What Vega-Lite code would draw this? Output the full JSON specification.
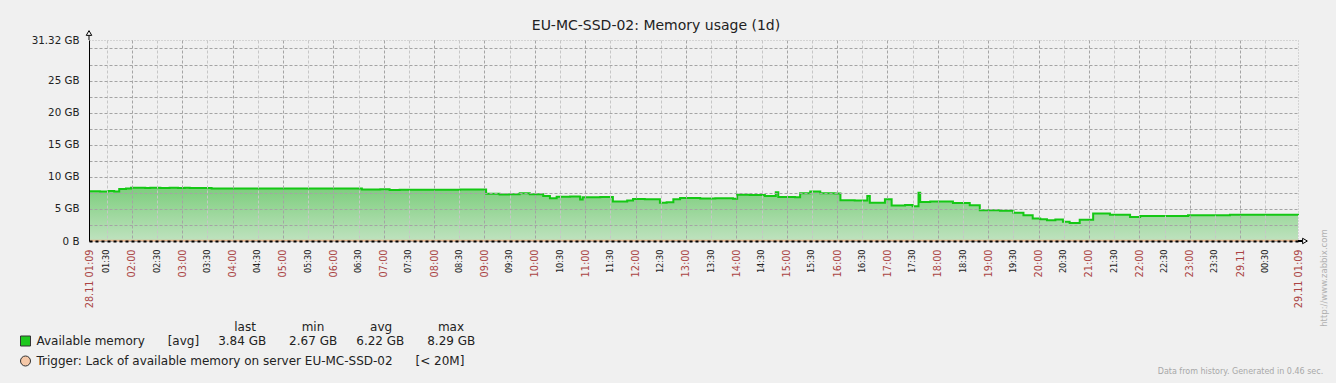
{
  "$schema": "https://vega.github.io/schema/vega-lite/v6.json",
  "width": 1209,
  "height": 201,
  "autosize": {"type": "none"},
  "padding": {"left": 89, "top": 40, "right": 38, "bottom": 142},
  "background": "#f0f0f0",
  "title": {"text": "EU-MC-SSD-02: Memory usage (1d)", "anchor": "middle", "frame": "group", "dx": -37.5, "dy": 8.5, "offset": 4, "font": "DejaVu Sans", "fontSize": 14, "fontWeight": "normal", "color": "#222222"},
  "config": {
    "view": {"fill": "#e0e0e0", "stroke": "#b8b8b8", "strokeDash": [1, 2]},
    "font": "DejaVu Sans",
    "axisX": {"labelOverlap": false, "labelFlush": false, "labelBound": false, "tickCount": 200},
    "axisY": {"labelOverlap": false, "labelFlush": false, "labelBound": false}
  },
  "datasets": {
    "memory": [
      {"time": "2017-11-28T01:09Z", "gb": 7.74},
      {"time": "2017-11-28T01:22Z", "gb": 7.70},
      {"time": "2017-11-28T01:32Z", "gb": 7.78},
      {"time": "2017-11-28T01:39Z", "gb": 7.72},
      {"time": "2017-11-28T01:45Z", "gb": 8.10},
      {"time": "2017-11-28T01:53Z", "gb": 8.18},
      {"time": "2017-11-28T01:59Z", "gb": 8.28},
      {"time": "2017-11-28T02:16Z", "gb": 8.25},
      {"time": "2017-11-28T02:22Z", "gb": 8.29},
      {"time": "2017-11-28T02:34Z", "gb": 8.26},
      {"time": "2017-11-28T02:45Z", "gb": 8.29},
      {"time": "2017-11-28T02:55Z", "gb": 8.24},
      {"time": "2017-11-28T03:03Z", "gb": 8.29},
      {"time": "2017-11-28T03:09Z", "gb": 8.27},
      {"time": "2017-11-28T03:35Z", "gb": 8.18},
      {"time": "2017-11-28T04:09Z", "gb": 8.20},
      {"time": "2017-11-28T04:33Z", "gb": 8.17},
      {"time": "2017-11-28T05:20Z", "gb": 8.19},
      {"time": "2017-11-28T05:56Z", "gb": 8.17},
      {"time": "2017-11-28T06:34Z", "gb": 8.02},
      {"time": "2017-11-28T06:56Z", "gb": 8.06},
      {"time": "2017-11-28T07:07Z", "gb": 7.95},
      {"time": "2017-11-28T07:19Z", "gb": 8.00},
      {"time": "2017-11-28T07:55Z", "gb": 7.98},
      {"time": "2017-11-28T08:31Z", "gb": 8.02},
      {"time": "2017-11-28T09:02Z", "gb": 7.35},
      {"time": "2017-11-28T09:18Z", "gb": 7.25},
      {"time": "2017-11-28T09:30Z", "gb": 7.30},
      {"time": "2017-11-28T09:42Z", "gb": 7.45},
      {"time": "2017-11-28T09:54Z", "gb": 7.28},
      {"time": "2017-11-28T10:10Z", "gb": 7.00},
      {"time": "2017-11-28T10:18Z", "gb": 6.65},
      {"time": "2017-11-28T10:26Z", "gb": 6.88},
      {"time": "2017-11-28T10:42Z", "gb": 6.95},
      {"time": "2017-11-28T10:54Z", "gb": 6.45},
      {"time": "2017-11-28T10:57Z", "gb": 6.80},
      {"time": "2017-11-28T11:18Z", "gb": 6.85},
      {"time": "2017-11-28T11:33Z", "gb": 6.15},
      {"time": "2017-11-28T11:50Z", "gb": 6.30},
      {"time": "2017-11-28T11:57Z", "gb": 6.55},
      {"time": "2017-11-28T12:11Z", "gb": 6.50},
      {"time": "2017-11-28T12:29Z", "gb": 5.95},
      {"time": "2017-11-28T12:37Z", "gb": 6.05},
      {"time": "2017-11-28T12:45Z", "gb": 6.50},
      {"time": "2017-11-28T12:53Z", "gb": 6.70},
      {"time": "2017-11-28T13:17Z", "gb": 6.62},
      {"time": "2017-11-28T13:35Z", "gb": 6.68},
      {"time": "2017-11-28T13:56Z", "gb": 6.60},
      {"time": "2017-11-28T14:01Z", "gb": 7.20},
      {"time": "2017-11-28T14:16Z", "gb": 7.15},
      {"time": "2017-11-28T14:34Z", "gb": 7.00},
      {"time": "2017-11-28T14:47Z", "gb": 7.58},
      {"time": "2017-11-28T14:50Z", "gb": 6.85},
      {"time": "2017-11-28T15:10Z", "gb": 6.82},
      {"time": "2017-11-28T15:16Z", "gb": 7.45},
      {"time": "2017-11-28T15:28Z", "gb": 7.72},
      {"time": "2017-11-28T15:40Z", "gb": 7.45},
      {"time": "2017-11-28T15:57Z", "gb": 7.40},
      {"time": "2017-11-28T16:04Z", "gb": 6.35},
      {"time": "2017-11-28T16:21Z", "gb": 6.30},
      {"time": "2017-11-28T16:36Z", "gb": 7.00},
      {"time": "2017-11-28T16:39Z", "gb": 5.95},
      {"time": "2017-11-28T16:57Z", "gb": 6.50},
      {"time": "2017-11-28T17:05Z", "gb": 5.55},
      {"time": "2017-11-28T17:21Z", "gb": 5.60},
      {"time": "2017-11-28T17:30Z", "gb": 5.40},
      {"time": "2017-11-28T17:37Z", "gb": 7.53},
      {"time": "2017-11-28T17:39Z", "gb": 6.07},
      {"time": "2017-11-28T17:51Z", "gb": 6.17},
      {"time": "2017-11-28T18:18Z", "gb": 5.92},
      {"time": "2017-11-28T18:38Z", "gb": 5.56},
      {"time": "2017-11-28T18:50Z", "gb": 4.78},
      {"time": "2017-11-28T19:14Z", "gb": 4.72},
      {"time": "2017-11-28T19:30Z", "gb": 4.42},
      {"time": "2017-11-28T19:42Z", "gb": 4.00},
      {"time": "2017-11-28T19:53Z", "gb": 3.50},
      {"time": "2017-11-28T20:02Z", "gb": 3.40},
      {"time": "2017-11-28T20:10Z", "gb": 3.25},
      {"time": "2017-11-28T20:20Z", "gb": 3.35},
      {"time": "2017-11-28T20:29Z", "gb": 3.00},
      {"time": "2017-11-28T20:37Z", "gb": 2.80},
      {"time": "2017-11-28T20:49Z", "gb": 3.30},
      {"time": "2017-11-28T21:05Z", "gb": 4.27},
      {"time": "2017-11-28T21:25Z", "gb": 4.10},
      {"time": "2017-11-28T21:49Z", "gb": 3.74},
      {"time": "2017-11-28T22:01Z", "gb": 3.90},
      {"time": "2017-11-28T22:48Z", "gb": 3.88},
      {"time": "2017-11-28T22:58Z", "gb": 4.02},
      {"time": "2017-11-28T23:48Z", "gb": 4.08},
      {"time": "2017-11-29T01:09Z", "gb": 4.05}
    ],
    "series": [
      {"series": "Available memory"},
      {"series": "Trigger: Lack of available memory on server EU-MC-SSD-02"}
    ],
    "trigger": [{"threshold_gb": 0.0195}]
  },
  "layer": [
    {
      "data": {"name": "memory"},
      "mark": {"type": "area", "interpolate": "step-after", "color": {"gradient": "linear", "x1": 0, "y1": 0, "x2": 0, "y2": 1, "stops": [{"offset": 0, "color": "#7dce7d"}, {"offset": 1, "color": "#bfe2bf"}]}},
      "encoding": {
        "x": {
          "field": "time", "type": "temporal",
          "scale": {"type": "utc", "domain": [{"year": 2017, "month": 11, "date": 28, "hours": 1, "minutes": 9, "utc": true}, {"year": 2017, "month": 11, "date": 29, "hours": 1, "minutes": 9, "utc": true}]},
          "axis": {
            "title": "Data from history. Generated in 0.46 sec.",
            "tickCount": 200,
            "values": [1511831340000, 1511832600000, 1511834400000, 1511836200000, 1511838000000, 1511839800000, 1511841600000, 1511843400000, 1511845200000, 1511847000000, 1511848800000, 1511850600000, 1511852400000, 1511854200000, 1511856000000, 1511857800000, 1511859600000, 1511861400000, 1511863200000, 1511865000000, 1511866800000, 1511868600000, 1511870400000, 1511872200000, 1511874000000, 1511875800000, 1511877600000, 1511879400000, 1511881200000, 1511883000000, 1511884800000, 1511886600000, 1511888400000, 1511890200000, 1511892000000, 1511893800000, 1511895600000, 1511897400000, 1511899200000, 1511901000000, 1511902800000, 1511904600000, 1511906400000, 1511908200000, 1511910000000, 1511911800000, 1511913600000, 1511915400000, 1511917740000],
            "labelExpr": "time(datum.value) == 1511831340000 ? '28.11 01:09' : (time(datum.value) == 1511917740000 ? '29.11 01:09' : (time(datum.value) == 1511913600000 ? '29.11' : utcFormat(datum.value, '%H:%M')))",
            "labelAngle": -90,
            "labelFont": "DejaVu Sans",
            "labelFontSize": {"condition": {"test": "utcminutes(datum.value) != 30", "value": 9.7}, "value": 8.2},
            "labelColor": {"condition": {"test": "utcminutes(datum.value) != 30", "value": "#aa4444"}, "value": "#222222"},
            "labelPadding": 8,
            "labelOverlap": false,
            "labelFlush": false,
            "labelBound": false,
            "ticks": false,
            "domainColor": "#000000",
            "domainDash": [3, 3],
            "domainWidth": 2,
            "grid": true,
            "gridColor": {"condition": {"test": "utcminutes(datum.value) != 30", "value": "#a4a4a4"}, "value": "#c6c6c6"},
            "gridDash": [3, 2],
            "gridOpacity": {"condition": {"test": "utcminutes(datum.value) == 9", "value": 0}, "value": 1},
            "zindex": 1,
            "titleFont": "DejaVu Sans",
            "titleFontSize": 8,
            "titleFontWeight": "normal",
            "titleColor": "#a8a8a8",
            "titleAlign": "right",
            "titleBaseline": "middle",
            "titleAngle": 0,
            "titleX": 1233.7,
            "titleY": 130.7
          }
        },
        "y": {
          "field": "gb", "type": "quantitative",
          "scale": {"domain": [0, 31.32], "nice": false, "zero": true},
          "axis": {
            "orient": "left",
            "title": null,
            "tickCount": 100,
            "values": [0, 2.5, 5, 7.5, 10, 12.5, 15, 17.5, 20, 22.5, 25, 27.5, 30, 31.32],
            "labelExpr": "datum.value == 0 ? '0 B' : (datum.value > 31 ? '31.32 GB' : ((datum.value % 5 == 0 && datum.value <= 25) ? datum.value + ' GB' : ''))",
            "labelFont": "DejaVu Sans",
            "labelFontSize": 10.3,
            "labelColor": "#222222",
            "labelPadding": 10,
            "labelOverlap": false,
            "labelBound": false,
            "labelFlush": false,
            "ticks": false,
            "domainColor": "#000000",
            "domainWidth": 1,
            "grid": true,
            "gridColor": "#a4a4a4",
            "gridDash": [3, 2],
            "gridOpacity": {"condition": {"test": "datum.value > 31", "value": 0}, "value": 1},
            "zindex": 1
          }
        }
      }
    },
    {
      "data": {"name": "memory"},
      "mark": {"type": "line", "interpolate": "step-after", "strokeWidth": 2, "color": "#14c814"},
      "encoding": {
        "x": {"field": "time", "type": "temporal"},
        "y": {
          "field": "gb", "type": "quantitative",
          "axis": {"orient": "right", "labels": false, "ticks": false, "domain": false, "grid": false, "title": "http://www.zabbix.com", "titleFont": "DejaVu Sans", "titleFontSize": 8.5, "titleFontWeight": "normal", "titleColor": "#b0b0b0", "titleAngle": -90, "titleAlign": "center", "titleBaseline": "middle", "titleX": 25, "titleY": 237.5}
        }
      }
    },
    {
      "data": {"name": "trigger"},
      "mark": {"type": "rule", "color": "#e8b48c", "strokeWidth": 2},
      "encoding": {
        "y": {"field": "threshold_gb", "type": "quantitative", "axis": null}
      }
    },
    {
      "data": {"values": [{}]},
      "mark": {"type": "rule", "color": "#000000", "strokeWidth": 1},
      "encoding": {
        "x": {"datum": {"year": 2017, "month": 11, "date": 28, "hours": 1, "minutes": 9, "utc": true}, "type": "temporal"},
        "y": {"datum": 31.32, "type": "quantitative", "axis": null},
        "y2": {"datum": 32.0}
      }
    },
    {
      "data": {"values": [{}]},
      "mark": {"type": "point", "shape": "triangle-up", "size": 30, "filled": true, "fill": "#f8f8f8", "stroke": "#000000", "strokeWidth": 1, "opacity": 1},
      "encoding": {
        "x": {"datum": {"year": 2017, "month": 11, "date": 28, "hours": 1, "minutes": 9, "utc": true}, "type": "temporal"},
        "y": {"datum": 32.41, "type": "quantitative", "axis": null}
      }
    },
    {
      "data": {"values": [{}]},
      "mark": {"type": "rule", "color": "#000000", "strokeWidth": 2},
      "encoding": {
        "x": {"datum": {"year": 2017, "month": 11, "date": 29, "hours": 1, "minutes": 9, "utc": true}, "type": "temporal"},
        "x2": {"datum": {"year": 2017, "month": 11, "date": 29, "hours": 1, "minutes": 13, "seconds": 48, "utc": true}},
        "y": {"datum": 0, "type": "quantitative", "axis": null}
      }
    },
    {
      "data": {"values": [{}]},
      "mark": {"type": "point", "shape": "triangle-right", "size": 30, "filled": true, "fill": "#f8f8f8", "stroke": "#000000", "strokeWidth": 1, "opacity": 1},
      "encoding": {
        "x": {"datum": {"year": 2017, "month": 11, "date": 29, "hours": 1, "minutes": 17, "seconds": 18, "utc": true}, "type": "temporal"},
        "y": {"datum": 0, "type": "quantitative", "axis": null}
      }
    },
    {
      "data": {"name": "series"},
      "mark": {"type": "point", "filled": true, "size": 0, "opacity": 1, "stroke": "#333333", "strokeWidth": 1},
      "encoding": {
        "fill": {
          "field": "series", "type": "nominal",
          "scale": {"domain": ["Available memory", "Trigger: Lack of available memory on server EU-MC-SSD-02"], "range": ["#1ec81e", "#f5c8a8"]},
          "legend": {
            "orient": "none",
            "legendX": -69.5,
            "legendY": 282,
            "direction": "vertical",
            "padding": 0,
            "title": "last\u00a0\u00a0\u00a0\u00a0\u00a0\u00a0\u00a0\u00a0\u00a0\u00a0\u00a0\u00a0min\u00a0\u00a0\u00a0\u00a0\u00a0\u00a0\u00a0\u00a0\u00a0\u00a0\u00a0\u00a0avg\u00a0\u00a0\u00a0\u00a0\u00a0\u00a0\u00a0\u00a0\u00a0\u00a0\u00a0\u00a0max\u00a0\u00a0\u00a0\u200c",
            "titleAnchor": "end",
            "titleFont": "DejaVu Sans",
            "titleFontSize": 12,
            "titleFontWeight": "normal",
            "titleColor": "#222222",
            "titleLimit": 1000,
            "titlePadding": 1,
            "labelFont": "DejaVu Sans",
            "labelFontSize": 12,
            "labelColor": "#222222",
            "labelLimit": 1000,
            "labelOffset": 5,
            "symbolSize": 100,
            "symbolStrokeColor": "#333333",
            "symbolStrokeWidth": 1,
            "symbolOpacity": 1,
            "rowPadding": 6,
            "labelExpr": "datum.label == 'Available memory' ? 'Available memory\u00a0\u00a0\u00a0\u00a0\u00a0\u00a0[avg]\u00a0\u00a0\u00a0\u00a0\u00a03.84 GB\u00a0\u00a0\u00a0\u00a0\u00a0\u00a02.67 GB\u00a0\u00a0\u00a0\u00a0\u00a06.22 GB\u00a0\u00a0\u00a0\u00a0\u00a0\u00a08.29 GB' : datum.label + '\u00a0\u00a0\u00a0\u00a0\u00a0\u00a0[< 20M]'"
          }
        },
        "shape": {
          "field": "series", "type": "nominal",
          "scale": {"domain": ["Available memory", "Trigger: Lack of available memory on server EU-MC-SSD-02"], "range": ["square", "circle"]}
        }
      }
    }
  ],
  "resolve": {"axis": {"y": "independent"}}
}
